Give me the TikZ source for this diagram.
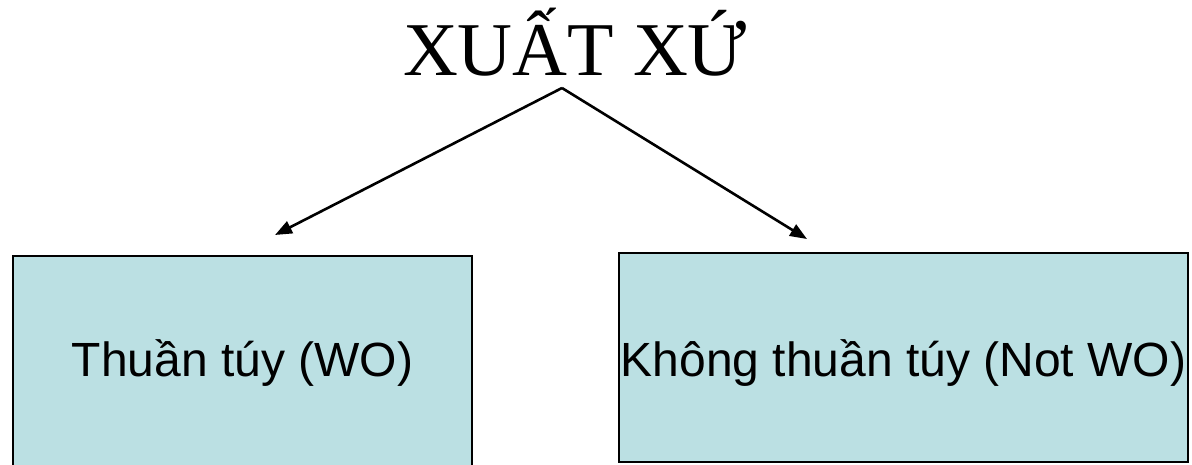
\documentclass[tikz,border=0pt]{standalone}
\usepackage{fontspec}
\setmainfont{Liberation Serif}
\newfontfamily\arialfont{Liberation Sans}
\usetikzlibrary{arrows.meta}
\definecolor{boxfill}{RGB}{187,224,227}
\tikzset{
  catbox/.style={draw=black, line width=1.5pt, fill=boxfill, inner sep=0pt},
  cattext/.style={anchor=base, inner sep=0pt, font=\arialfont\fontsize{48}{56}\selectfont},
  branch/.style={line width=2.6pt, -{Triangle[length=17pt,width=13pt]}}
}
\begin{document}
\begin{tikzpicture}[x=1pt,y=1pt]
\useasboundingbox (0,0) rectangle (1192,464);
\fill[white] (0,0) rectangle (1192,464);
\node[anchor=base, inner sep=0pt, font=\fontsize{76}{80}\selectfont] (title) at (575,388) {XUẤT XỨ};
\coordinate (apex) at (562,376);
\coordinate (ltip) at (275,229);
\coordinate (rtip) at (807,225);
\node[catbox, minimum width=459pt, minimum height=212pt] (left) at (242.5,102) {};
\node[catbox, minimum width=569pt, minimum height=209pt] (right) at (903.5,106.5) {};
\node[cattext] (lefttext) at ([yshift=-14pt]left.center) {Thuần túy (WO)};
\node[cattext] (righttext) at ([yshift=-18.5pt]right.center) {Không thuần túy (Not WO)};
\draw[branch] (apex) -- (ltip);
\draw[branch] (apex) -- (rtip);
\end{tikzpicture}
\end{document}
